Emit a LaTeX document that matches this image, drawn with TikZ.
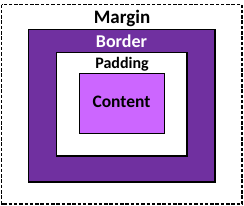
\documentclass[tikz,border=0pt]{standalone}
\usepackage{fontspec}
\setmainfont{Carlito}
\usepackage{tikz}
\usetikzlibrary{positioning}
\definecolor{borderpurple}{HTML}{7030A0}
\definecolor{contentpurple}{HTML}{CC66FF}
\tikzset{
	boxlabel/.style={font=\bfseries\fontsize{17.5}{17.5}\selectfont, inner sep=0pt}
}
\tikzset{
	boxline/.style={line width=1.3pt, draw=black}
}

\begin{document}
\begin{tikzpicture}[x=1pt, y=-1pt]
      \useasboundingbox (0,0) rectangle (244,206);
      % margin, border, padding, content from the outside in
      \draw[line width=1.3pt, dash pattern=on 3.5pt off 1.8pt] (1.5,4.5) rectangle (242,204);
      \draw[boxline, fill=borderpurple] (28.5,29.5) rectangle (215,182);
      \draw[boxline, fill=white] (56.5,52.5) rectangle (187,156);
      \draw[boxline, fill=contentpurple] (79.5,73.5) rectangle (164.5,133.5);
      \node[boxlabel, font=\bfseries\fontsize{19}{19}\selectfont] (margin) at (122,18.5) {Margin};
      \node[boxlabel, font=\bfseries\fontsize{18}{18}\selectfont, text=white] (border) at (121.5,41) {Border};
      \node[boxlabel, font=\bfseries\fontsize{16}{16}\selectfont] (padding) at (122,64) {Padding};
      \node[boxlabel] (content) at (121.5,102) {Content};
    \end{tikzpicture}
\end{document}
